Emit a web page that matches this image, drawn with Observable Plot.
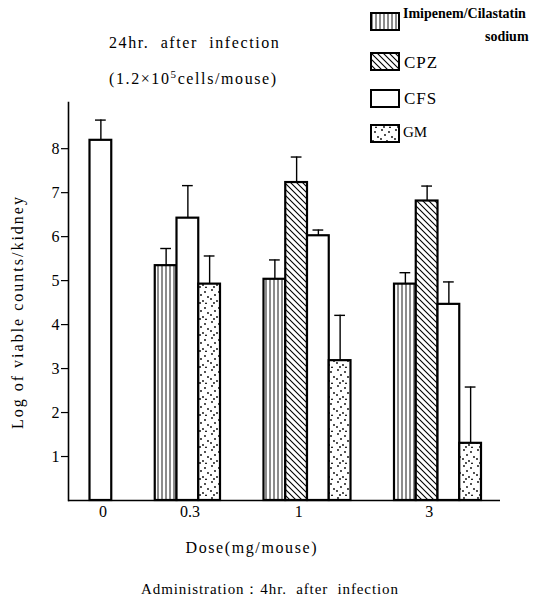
<!DOCTYPE html>
<html><head><meta charset="utf-8">
<script src="https://cdn.jsdelivr.net/npm/d3@7"></script>
<script src="https://cdn.jsdelivr.net/npm/@observablehq/plot@0.6"></script>
<style>
body{margin:0;background:#fff;}
#wrap{position:relative;width:547px;height:608px;font-family:"Liberation Serif",serif;color:#000;overflow:hidden;}
#wrap svg{position:absolute;left:0;top:0;}
.t{position:absolute;white-space:nowrap;line-height:1;}
</style></head><body><div id="wrap"></div>
<script>
// ---- data ----
const doses = ["0", "0.3", "1", "3"];
const drugs = ["Imipenem/Cilastatin sodium", "CPZ", "CFS", "GM"];
const imipenemMean = [null, 5.34, 5.03, 4.92];
const imipenemSD   = [null, 0.39, 0.44, 0.26];
const cpzMean      = [null, null, 7.23, 6.81];
const cpzSD        = [null, null, 0.58, 0.34];
const cfsMean      = [8.19, 6.42, 6.02, 4.46];
const cfsSD        = [0.46, 0.74, 0.13, 0.51];
const gmMean       = [null, 4.92, 3.18, 1.30];
const gmSD         = [null, 0.64, 1.03, 1.28];
const yTicks = [1, 2, 3, 4, 5, 6, 7, 8];

const means = [imipenemMean, cpzMean, cfsMean, gmMean];
const sds = [imipenemSD, cpzSD, cfsSD, gmSD];
const fills = ["url(#pVert)", "url(#pDiag)", "white", "url(#pDots)"];

const rows = [];
const xDomain = [];
const labelRows = [];
doses.forEach((dose, i) => {
  if (i > 0) xDomain.push(`gap${i}a`, `gap${i}b`);
  const groupKeys = [];
  drugs.forEach((drug, j) => {
    const m = means[j][i];
    if (m == null) return;
    const key = `${dose}|${drug}`;
    rows.push({dose, drug, key, mean: m, sd: sds[j][i]});
    xDomain.push(key);
    groupKeys.push(key);
  });
  labelRows.push({dose, key: groupKeys[Math.floor((groupKeys.length - 1) / 2)]});
});

const wrap = document.getElementById("wrap");

const chart = Plot.plot({
  width: 547, height: 608,
  marginLeft: 68, marginRight: 47, marginTop: 102, marginBottom: 108,
  style: {fontFamily: "'Liberation Serif', serif", fontSize: "15px", background: "transparent", color: "black"},
  x: {type: "band", domain: xDomain, paddingInner: 0, paddingOuter: 0, round: false, range: [89.5, 481], axis: null},
  y: {domain: [0, 9.05], axis: null},
  color: {type: "ordinal", domain: drugs, range: fills},
  marks: [
    Plot.barY(rows, {x: "key", y: "mean", fill: "drug", stroke: "black", strokeWidth: 2.2}),
    Plot.ruleX(rows, {x: "key", y1: "mean", y2: d => d.mean + d.sd, stroke: "black", strokeWidth: 1.4}),
    Plot.tickY(rows, {x: "key", y: d => d.mean + d.sd, stroke: "black", strokeWidth: 1.4, insetLeft: 5.5, insetRight: 5.5}),
    Plot.axisY({ticks: yTicks, tickSize: 7, tickPadding: 2, fontSize: 16, label: null, tickFormat: d => d, strokeWidth: 1.2}),
    Plot.ruleY([0], {stroke: "black", strokeWidth: 1.6}),
    Plot.frame({anchor: "left", stroke: "black", strokeWidth: 1.6}),
    Plot.text(labelRows, {x: "key", y: 0, text: "dose", lineAnchor: "top", dy: 5, dx: 2, fontSize: 16})
  ]
});

// patterns
const defs = d3.select(chart).insert("defs", ":first-child");
const pv = defs.append("pattern").attr("id", "pVert").attr("patternUnits", "userSpaceOnUse").attr("width", 4).attr("height", 10);
pv.append("rect").attr("width", 4).attr("height", 10).attr("fill", "white");
pv.append("line").attr("x1", 2).attr("x2", 2).attr("y1", 0).attr("y2", 10).attr("stroke", "black").attr("stroke-width", 0.9);
const pd = defs.append("pattern").attr("id", "pDiag").attr("patternUnits", "userSpaceOnUse").attr("width", 6).attr("height", 6);
pd.append("rect").attr("width", 6).attr("height", 6).attr("fill", "white");
pd.append("path").attr("d", "M0,0L6,6M-1,5L1,7M5,-1L7,1").attr("stroke", "black").attr("stroke-width", 1.1);
const pdots = defs.append("pattern").attr("id", "pDots").attr("patternUnits", "userSpaceOnUse").attr("width", 14).attr("height", 16);
pdots.append("rect").attr("width", 14).attr("height", 16).attr("fill", "white");
[[2,2],[9,4],[5,7],[12,9],[1,11],[7,13],[10,15.5],[4,15]].forEach(([cx, cy]) =>
  pdots.append("circle").attr("cx", cx).attr("cy", cy).attr("r", 0.9).attr("fill", "black"));

wrap.appendChild(chart);

// overlay texts
function put(html, x, baseline, size, opts = {}) {
  const d = document.createElement("div");
  d.className = "t";
  d.innerHTML = html;
  d.style.fontSize = size + "px";
  d.style.top = (baseline - 0.8375 * size) + "px";
  if (opts.ls) d.style.letterSpacing = opts.ls + "px";
  if (opts.weight) d.style.fontWeight = opts.weight;
  wrap.appendChild(d);
  if (opts.anchor === "middle") d.style.left = (x - d.offsetWidth / 2) + "px";
  else d.style.left = x + "px";
  return d;
}
put("24hr.&nbsp; after&nbsp; infection", 109, 48, 16, {ls: 1.6});
put("(1.2×10<sup style=\"font-size:11px;vertical-align:6px;line-height:0\">5</sup>cells/mouse)", 109, 84, 16, {ls: 1.6});
put("Dose(mg/mouse)", 252, 553, 16, {ls: 1.6, anchor: "middle"});
put("Administration：4hr.&nbsp; after&nbsp; infection", 270, 595, 15, {ls: 0.9, anchor: "middle"});

// y label
const yl = put("Log of viable counts/kidney", 0, 0, 16, {ls: 2});
yl.style.transformOrigin = "0 0";
yl.style.left = "10px";
yl.style.top = (312 + yl.offsetWidth / 2) + "px";
yl.style.transform = "rotate(-90deg)";

// legend
const legendItems = [
  {fill: fills[0], top: 13, text: "Imipenem/Cilastatin", tx: 403, tb: 19, size: 14, weight: "bold"},
  {fill: fills[1], top: 53, text: "CPZ", tx: 404, tb: 68, size: 17, ls: 1},
  {fill: fills[2], top: 90, text: "CFS", tx: 404, tb: 104, size: 17, ls: 1},
  {fill: fills[3], top: 125, text: "GM", tx: 403, tb: 138, size: 15, ls: 0}
];
const lsvg = d3.create("svg").attr("width", 40).attr("height", 160).style("left", "366px").style("top", "0px");
legendItems.forEach(it => {
  lsvg.append("rect").attr("x", 5).attr("y", it.top).attr("width", 28).attr("height", 17)
    .attr("fill", it.fill).attr("stroke", "black").attr("stroke-width", 2);
  put(it.text, it.tx, it.tb, it.size, {ls: it.ls, weight: it.weight});
});
wrap.appendChild(lsvg.node());
put("sodium", 485, 42, 14, {weight: "bold"});
</script>
</body></html>
